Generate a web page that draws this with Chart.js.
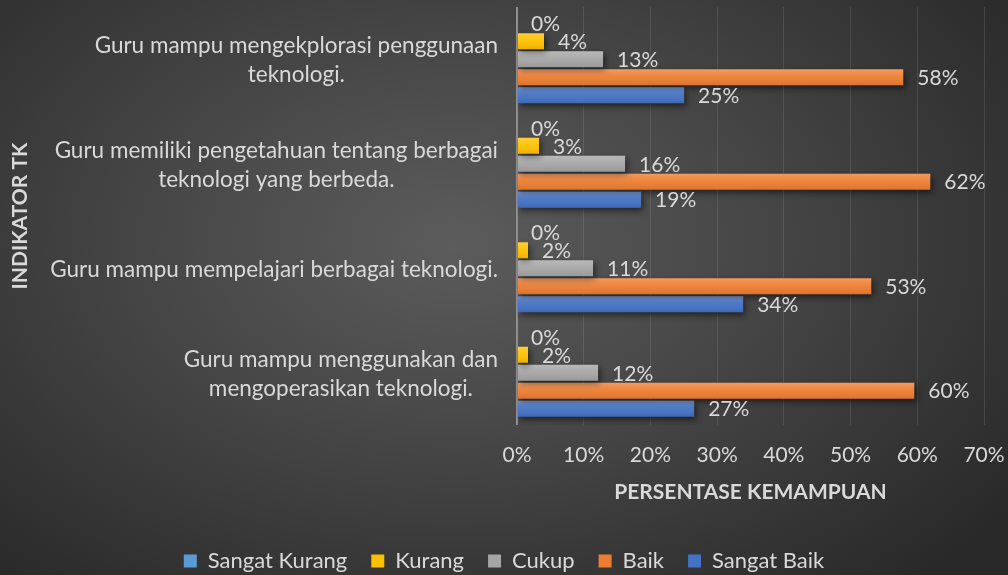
<!DOCTYPE html>
<html>
<head>
<meta charset="utf-8">
<script src="https://cdn.jsdelivr.net/npm/chart.js@4"></script>
<style>
html,body{margin:0;padding:0;}
body{width:1008px;height:575px;overflow:hidden;background:radial-gradient(ellipse 70% 80% at 45% 42%, #5c5c5c 0%, #434343 50%, #282828 100%);}
#wrap{position:relative;width:1008px;height:575px;}
</style>
</head>
<body>
<div id="wrap"><canvas id="c"></canvas></div>
<script>
// categories top -> bottom, each as its wrapped lines
const categories = [
  ["Guru mampu mengekplorasi penggunaan", "teknologi."],
  ["Guru memiliki pengetahuan tentang berbagai", "teknologi yang berbeda."],
  ["Guru mampu mempelajari berbagai teknologi."],
  ["Guru mampu menggunakan dan", "mengoperasikan teknologi."]
];
const seriesNames = ["Sangat Kurang", "Kurang", "Cukup", "Baik", "Sangat Baik"];
const sangatKurang = [0, 0, 0, 0];
const kurang = [4.05, 3.3, 1.65, 1.65];
const cukup = [12.9, 16.2, 11.4, 12.15];
const baik = [57.9, 61.95, 53.1, 59.55];
const sangatBaik = [25.05, 18.6, 33.9, 26.55];
const xTicks = [0, 10, 20, 30, 40, 50, 60, 70];
const colors = ["#5b9bd5", "#ffc000", "#a5a5a5", "#ed7d31", "#4472c4"];

const TEXT = "#d9d9d9";
Chart.defaults.font.family = "Lato";
Chart.defaults.color = TEXT;

const series = [sangatKurang, kurang, cukup, baik, sangatBaik];

// shadow under the bars, like the office style
const shadowPlugin = {
  id: "barShadow",
  beforeDatasetsDraw(chart){
    const c = chart.ctx;
    c.save();
    c.shadowColor = "rgba(0,0,0,0.55)";
    c.shadowBlur = 6;
    c.shadowOffsetX = 2;
    c.shadowOffsetY = 3;
  },
  afterDatasetsDraw(chart){
    const c = chart.ctx;
    c.restore();
    // soft vertical shading on each bar
    chart.data.datasets.forEach((ds, di) => {
      chart.getDatasetMeta(di).data.forEach(bar => {
        const w = bar.x - bar.base;
        if (w <= 0) return;
        const top = bar.y - bar.height / 2;
        const g = c.createLinearGradient(0, top, 0, top + bar.height);
        g.addColorStop(0, "rgba(255,255,255,0.22)");
        g.addColorStop(0.5, "rgba(255,255,255,0.05)");
        g.addColorStop(1, "rgba(0,0,0,0.08)");
        c.fillStyle = g;
        c.fillRect(bar.base, top, w, bar.height);
      });
    });
    // value labels
    c.save();
    c.font = "21px Lato";
    c.fillStyle = TEXT;
    c.textAlign = "left";
    c.textBaseline = "middle";
    chart.data.datasets.forEach((ds, di) => {
      chart.getDatasetMeta(di).data.forEach((bar, i) => {
        c.fillText(Math.round(ds.data[i]) + "%", bar.x + 14, bar.y + 1);
      });
    });
    c.restore();
  }
};

// category labels: lines centred, block right-aligned to the axis
const yLabelPlugin = {
  id: "yLabels",
  afterDraw(chart){
    const c = chart.ctx, y = chart.scales.y;
    c.save();
    c.font = "22.5px Lato";
    c.fillStyle = TEXT;
    c.textAlign = "center";
    c.textBaseline = "middle";
    const right = chart.chartArea.left - 19, lh = 29;
    chart.data.labels.forEach((lines, i) => {
      const cy = y.getPixelForValue(i);
      const w = Math.max(...lines.map(l => c.measureText(l).width));
      const cx = right - w / 2;
      lines.forEach((l, j) => c.fillText(l, cx, cy + 1 + (j - (lines.length - 1) / 2) * lh));
    });
    c.restore();
  }
};

new Chart(document.getElementById("c"), {
  type: "bar",
  data: {
    labels: categories,
    datasets: seriesNames.map((n, i) => ({
      label: n, data: series[i], backgroundColor: colors[i],
      categoryPercentage: 0.86, barPercentage: 0.89
    }))
  },
  options: {
    indexAxis: "y",
    responsive: true,
    maintainAspectRatio: false,
    animation: false,
    events: [],
    layout: { padding: { top: 7, right: 0, bottom: 0, left: 0 } },
    plugins: {
      tooltip: { enabled: false },
      legend: {
        position: "bottom",
        maxHeight: 49,
        labels: { font: { size: 22 }, boxWidth: 13, boxHeight: 13, padding: 24, color: TEXT }
      }
    },
    scales: {
      x: {
        min: 0, max: 70,
        afterBuildTicks: s => { s.ticks = xTicks.map(v => ({ value: v })); },
        ticks: { callback: v => v + "%", font: { size: 21 }, padding: 18, color: TEXT },
        grid: {
          drawTicks: false,
          color: c => c.tick && c.tick.value === 0 ? "#8f8f8f" : "rgba(255,255,255,0.1)",
          lineWidth: c => c.tick && c.tick.value === 0 ? 2 : 1
        },
        border: { display: false },
        title: { display: true, text: "PERSENTASE KEMAMPUAN", font: { size: 21, weight: "bold" }, color: TEXT, padding: { top: 4, bottom: 21 } },
        afterFit: s => { s.height = 101; s.paddingRight = 24; s.paddingLeft = 0; }
      },
      y: {
        ticks: { display: false },
        grid: { display: false },
        border: { display: false },
        title: { display: true, text: "INDIKATOR TK", font: { size: 21, weight: "bold" }, color: TEXT, padding: { top: 8 } },
        afterFit: s => { s.width = 517; }
      }
    }
  },
  plugins: [shadowPlugin, yLabelPlugin]
});
</script>
</body>
</html>
